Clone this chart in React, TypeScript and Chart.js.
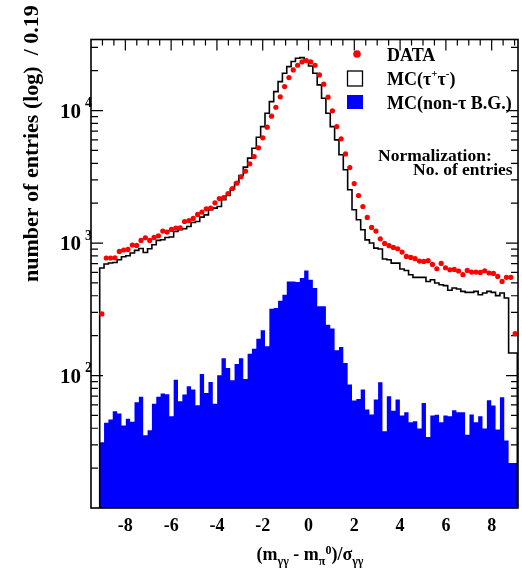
import React, { useEffect, useRef } from "react";
import { Chart, registerables } from "chart.js";

Chart.register(...registerables);

// Histogram binning (bin width 0.19)
const BIN_LOW = -9.12;
const BIN_WIDTH = 0.19;

// DATA (red points), entries per bin
const dataCounts = [
  292, 771, 771, 774, 865, 886, 895, 966, 960, 1047,
  1097, 1047, 1102, 1135, 1231, 1210, 1267, 1298, 1304, 1455,
  1479, 1534, 1644, 1713, 1814, 1836, 2013, 2168, 2206, 2366,
  2581, 2833, 3162, 3490, 3963, 4500, 5232, 6227, 7500, 9078,
  10600, 12700, 15170, 17740, 20280, 21980, 23300, 23830, 23300, 21980,
  18580, 15820, 12620, 9950, 7570, 6120, 4710, 3716, 2813, 2285,
  1888, 1560, 1312, 1231, 1077, 993, 955, 927, 906, 855,
  792, 779, 762, 731, 727, 736, 690, 640, 702, 651,
  629, 632, 615, 577, 621, 604, 604, 600, 618, 594,
  590, 560, 513, 551, 551, 207,
];

// MC(tau+ tau-) (black histogram)
const mcTauTau = [
  235, 648, 695, 707, 714, 748, 788, 802, 841, 880,
  910, 849, 906, 971, 1047, 1059, 1102, 1110, 1223, 1259,
  1282, 1334, 1429, 1455, 1570, 1633, 1782, 1836, 1888, 2121,
  2285, 2553, 2864, 3236, 3743, 4375, 5200, 6295, 7570, 9550,
  11690, 13900, 16550, 19150, 21480, 23440, 24850, 25120, 23440, 21730,
  19150, 15620, 12400, 9550, 7570, 6010, 4640, 3573, 2523, 1782,
  1500, 1259, 1057, 1000, 916, 901, 757, 748, 706, 706,
  637, 621, 577, 551, 551, 551, 513, 528, 499, 485,
  477, 440, 458, 450, 432, 424, 424, 432, 407, 420,
  432, 424, 401, 420, 385, 148,
];

// MC(non-tau B.G.) (blue filled histogram)
const mcNonTau = [
  12.3, 31.3, 44.0, 46.5, 53.7, 51.6, 41.9, 47.1, 44.7, 62.8,
  69.0, 35.4, 38.6, 61.1, 69.0, 73.1, 72.1, 49.2, 93.1, 63.9,
  71.8, 82.9, 78.3, 59.6, 102.8, 73.9, 89.5, 61.1, 100.4, 134.8,
  114.1, 92.0, 122.3, 134.8, 94.2, 146.3, 159.5, 189.8, 219.2, 166.0,
  319.6, 323.4, 367.3, 407.7, 513, 513, 508, 544, 621, 528,
  458, 333, 333, 242, 226, 155, 164, 124.5, 85.4, 64.7,
  66.6, 78.3, 55.3, 50.7, 65.8, 88.9, 37.9, 69.7, 54.3, 65.8,
  49.9, 52.8, 44.4, 45.2, 39.8, 62.1, 34.4, 49.9, 50.5, 44.4,
  49.9, 49.2, 54.7, 52.8, 52.8, 35.8, 50.7, 44.4, 49.2, 39.8,
  65.0, 59.3, 39.1, 68.5, 32.3, 21.9,
];

const xTickValues = [-8, -6, -4, -2, 0, 2, 4, 6, 8];
const xTickLabels = ["-8", "-6", "-4", "-2", "0", "2", "4", "6", "8"];
const yLabelExponents = [2, 3, 4];

const X_MIN = -9.5;
const X_MAX = 9.15;
const Y_MIN = 10;
const Y_MAX = 34400;

const FONT = "'Liberation Serif', 'Times New Roman', serif";

type Part = { t: string; size: number; dy: number };

function drawRich(ctx: CanvasRenderingContext2D, parts: Part[], x: number, y: number, align: "left" | "center") {
  let total = 0;
  const widths = parts.map((p) => {
    ctx.font = `bold ${p.size}px ${FONT}`;
    const w = ctx.measureText(p.t).width;
    total += w;
    return w;
  });
  let cx = align === "center" ? x - total / 2 : x;
  ctx.textAlign = "left";
  ctx.textBaseline = "alphabetic";
  parts.forEach((p, i) => {
    ctx.font = `bold ${p.size}px ${FONT}`;
    ctx.fillText(p.t, cx, y + p.dy);
    cx += widths[i];
  });
}

const framePlugin = {
  id: "framePlugin",
  beforeDatasetsDraw(chart: any) {
    const { ctx, chartArea: a, scales } = chart;
    const xs = scales.x;
    const ys = scales.y;
    ctx.save();
    ctx.strokeStyle = "#000";
    ctx.lineWidth = 1.2;
    ctx.beginPath();
    // x ticks every 0.5, major at even integers
    for (let k = -19; k <= 18; k++) {
      const v = k / 2;
      if (v <= X_MIN || v >= X_MAX) continue;
      const px = xs.getPixelForValue(v);
      const major = k % 4 === 0;
      const len = major ? 11 : 6;
      ctx.moveTo(px, a.top);
      ctx.lineTo(px, a.top + len);
      ctx.moveTo(px, a.bottom);
      ctx.lineTo(px, a.bottom - len);
    }
    // y ticks
    for (let d = 1; d <= 4; d++) {
      for (let m = 1; m <= 9; m++) {
        const v = m * Math.pow(10, d);
        if (v <= Y_MIN * 1.0001 || v >= Y_MAX) continue;
        const py = ys.getPixelForValue(v);
        const len = m === 1 ? 12 : 7;
        ctx.moveTo(a.left, py);
        ctx.lineTo(a.left + len, py);
        ctx.moveTo(a.right, py);
        ctx.lineTo(a.right - len, py);
      }
    }
    ctx.stroke();
    ctx.restore();
  },
  afterDatasetsDraw(chart: any) {
    const { ctx, chartArea: a, scales } = chart;
    const xs = scales.x;
    const ys = scales.y;
    ctx.save();
    // frame
    ctx.strokeStyle = "#000";
    ctx.lineWidth = 1.6;
    ctx.strokeRect(a.left, a.top, a.right - a.left, a.bottom - a.top);

    ctx.fillStyle = "#000";
    // x tick labels
    ctx.font = `bold 18px ${FONT}`;
    ctx.textAlign = "center";
    ctx.textBaseline = "middle";
    xTickValues.forEach((v, i) => {
      ctx.fillText(xTickLabels[i], xs.getPixelForValue(v), 526);
    });
    // y tick labels 10^n
    yLabelExponents.forEach((e) => {
      const py = ys.getPixelForValue(Math.pow(10, e));
      ctx.font = `bold 21px ${FONT}`;
      ctx.textAlign = "right";
      ctx.textBaseline = "middle";
      ctx.fillText("10", a.left - 10, py + 2);
      ctx.font = `bold 14px ${FONT}`;
      ctx.textAlign = "left";
      ctx.fillText(String(e), a.left - 6, py - 7);
    });

    // x axis title
    const M = 18;
    const S = 12;
    drawRich(
      ctx,
      [
        { t: "(m", size: M, dy: 0 },
        { t: "γγ", size: S, dy: 5 },
        { t: " - m", size: M, dy: 0 },
        { t: "π", size: S, dy: 5 },
        { t: "0", size: S, dy: -6 },
        { t: ")/σ", size: M, dy: 0 },
        { t: "γγ", size: S, dy: 5 },
      ],
      310,
      560,
      "center"
    );

    // y axis title
    ctx.save();
    ctx.translate(38, 282);
    ctx.rotate(-Math.PI / 2);
    ctx.font = `bold 22px ${FONT}`;
    ctx.textAlign = "left";
    ctx.textBaseline = "alphabetic";
    ctx.fillText("number of entries (log)  / 0.19", 0, 0);
    ctx.restore();

    // legend
    ctx.fillStyle = "#ff0000";
    ctx.beginPath();
    ctx.arc(357, 54, 3.8, 0, Math.PI * 2);
    ctx.fill();
    ctx.strokeStyle = "#000";
    ctx.lineWidth = 1.3;
    ctx.strokeRect(347.5, 71, 15, 15);
    ctx.fillStyle = "#0000ff";
    ctx.fillRect(347, 95, 16, 14);

    ctx.fillStyle = "#000";
    drawRich(ctx, [{ t: "DATA", size: 18, dy: 0 }], 387, 61, "left");
    drawRich(
      ctx,
      [
        { t: "MC(τ", size: 18, dy: 0 },
        { t: "+", size: 11, dy: -8 },
        { t: "τ", size: 18, dy: 0 },
        { t: "-", size: 11, dy: -8 },
        { t: ")", size: 18, dy: 0 },
      ],
      387,
      85,
      "left"
    );
    drawRich(ctx, [{ t: "MC(non-τ B.G.)", size: 18, dy: 0 }], 387, 109, "left");
    drawRich(ctx, [{ t: "Normalization:", size: 17.5, dy: 0 }], 378, 161, "left");
    drawRich(ctx, [{ t: "No. of entries", size: 17.5, dy: 0 }], 413, 175, "left");
    ctx.restore();
  },
};

export default function App() {
  const ref = useRef<HTMLCanvasElement | null>(null);

  useEffect(() => {
    if (!ref.current) return;
    const n = dataCounts.length;
    const edge = (k: number) => BIN_LOW + k * BIN_WIDTH;
    const centers = dataCounts.map((_, i) => edge(i) + BIN_WIDTH / 2);

    const bluePts = mcNonTau.map((v, i) => ({ x: edge(i), y: v }));
    bluePts.push({ x: edge(n), y: mcNonTau[n - 1] });

    const blackPts = [{ x: edge(0), y: Y_MIN }];
    mcTauTau.forEach((v, i) => blackPts.push({ x: edge(i), y: v }));
    blackPts.push({ x: edge(n), y: mcTauTau[n - 1] });
    blackPts.push({ x: edge(n), y: Y_MIN });

    const redPts = dataCounts.map((v, i) => ({ x: centers[i], y: v }));

    const chart = new Chart(ref.current, {
      type: "line",
      data: {
        datasets: [
          {
            label: "DATA",
            data: redPts,
            showLine: false,
            pointRadius: 2.6,
            pointBackgroundColor: "#ff0000",
            pointBorderWidth: 0,
            order: 0,
          },
          {
            label: "MC(tau tau)",
            data: blackPts,
            stepped: "after",
            borderColor: "#000000",
            borderWidth: 1.6,
            pointRadius: 0,
            fill: false,
            order: 1,
          },
          {
            label: "MC(non-tau B.G.)",
            data: bluePts,
            stepped: "after",
            borderWidth: 0,
            borderColor: "#0000ff",
            backgroundColor: "#0000ff",
            pointRadius: 0,
            fill: "start",
            order: 2,
          },
        ],
      } as any,
      options: {
        animation: false,
        responsive: false,
        devicePixelRatio: 1,
        layout: { padding: { left: 91, top: 39.5, right: 1, bottom: 65 } },
        plugins: { legend: { display: false }, tooltip: { enabled: false } },
        scales: {
          x: { type: "linear", min: X_MIN, max: X_MAX, display: false },
          y: { type: "logarithmic", min: Y_MIN, max: Y_MAX, display: false },
        },
      } as any,
      plugins: [framePlugin],
    });
    return () => chart.destroy();
  }, []);

  return (
    <div style={{ position: "fixed", left: 0, top: 0, width: 522, height: 573, background: "#fff" }}>
      <canvas ref={ref} width={522} height={573} style={{ width: 522, height: 573 }} />
    </div>
  );
}
